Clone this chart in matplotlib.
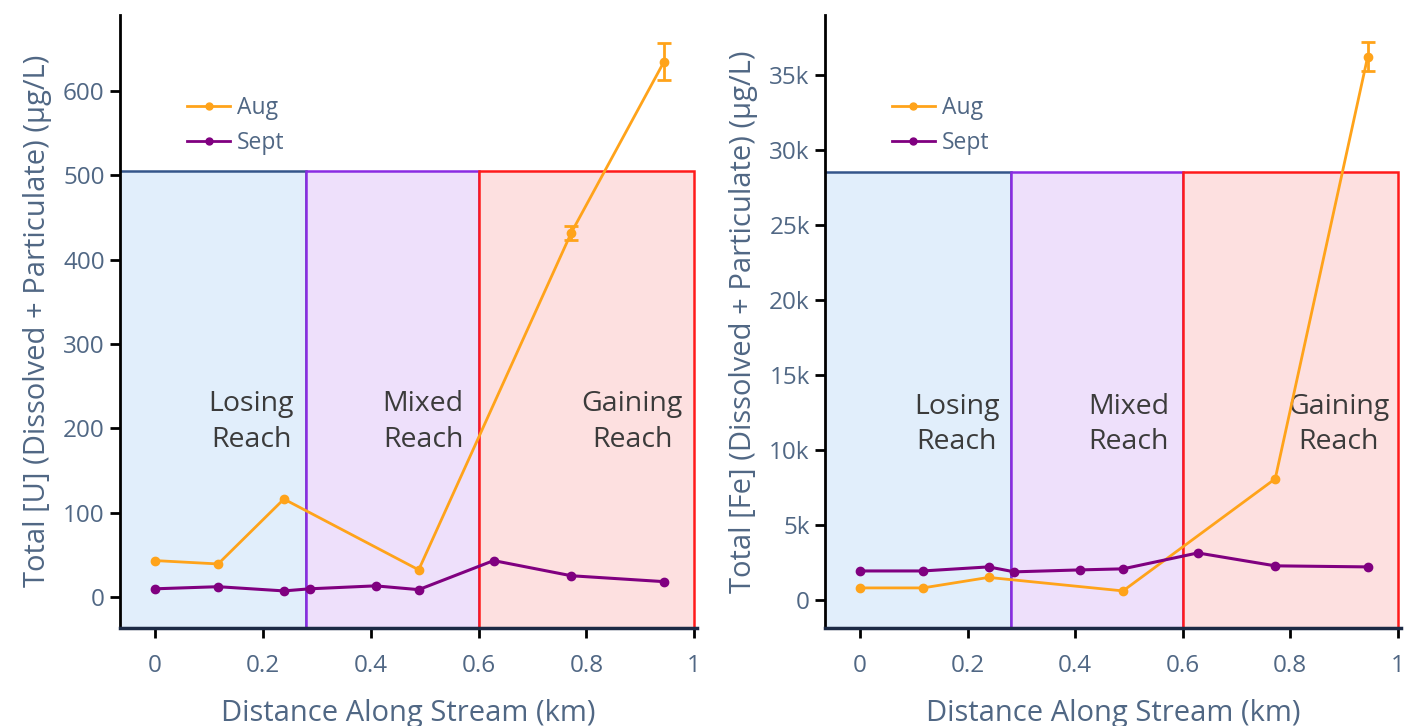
import matplotlib

matplotlib.use('Agg')
import matplotlib.pyplot as plt
from matplotlib.lines import Line2D
from matplotlib.patches import Rectangle
from matplotlib.ticker import FuncFormatter

plt.rcParams['font.family'] = ['Open Sans', 'DejaVu Sans']

# --- data: total concentration along the stream ---
aug_km = [0.0, 0.117, 0.239, 0.489, 0.772, 0.944]
sept_km = [0.0, 0.117, 0.239, 0.287, 0.409, 0.489, 0.628, 0.772, 0.944]

u_aug = [43, 39, 116, 32, 432, 635]
u_aug_err = [0, 0, 0, 0, 8, 22]
u_sept = [9.5, 12, 7, 9.5, 13, 8.5, 43, 25, 18]

fe_aug = [800, 800, 1500, 600, 8070, 36200]
fe_aug_err = [0, 0, 0, 0, 0, 950]
fe_sept = [1930, 1930, 2200, 1870, 2000, 2070, 3130, 2270, 2200]

reach_names = ['Losing\nReach', 'Mixed\nReach', 'Gaining\nReach']
reach_bounds = [-0.2, 0.28, 0.6, 1.0]
reach_fill = ['#e1eefb', '#eee0fb', '#fde0e0']
reach_edge = ['#34558a', '#8a2be2', '#ff1a1a']

AUG = '#ffa31a'
SEPT = '#800080'
TEXT = '#506784'


def draw_panel(ax, aug, aug_err, sept, ylabel, ylim, yticks, reach_top, label_x, fmt=None):
    ybot = ylim[0]
    for i in range(3):
        x0, x1 = reach_bounds[i], reach_bounds[i + 1]
        ax.add_patch(Rectangle((x0, ybot - 10 * abs(ybot)), x1 - x0,
                               reach_top - ybot + 10 * abs(ybot),
                               facecolor=reach_fill[i], edgecolor=reach_edge[i],
                               linewidth=1.8, zorder=1))
        ax.text(label_x[i], ylim[1] * 0.3, reach_names[i], ha='center', va='center',
                fontsize=20.5, color='#3b3b3b', linespacing=1.35, zorder=2)

    ax.plot(aug_km, aug, color=AUG, marker='o', markersize=6, linewidth=2, zorder=4)
    # error bars only where a spread was measured
    err_idx = [i for i, e in enumerate(aug_err) if e > 0]
    ax.errorbar([aug_km[i] for i in err_idx], [aug[i] for i in err_idx],
                yerr=[aug_err[i] for i in err_idx], fmt='none', ecolor=AUG,
                capsize=5, capthick=2, elinewidth=2, zorder=4)
    ax.plot(sept_km, sept, color=SEPT, marker='o', markersize=6, linewidth=2.2, zorder=4)

    ax.set_xlim(-0.065, 1.005)
    ax.set_ylim(*ylim)
    ax.set_xticks([0, 0.2, 0.4, 0.6, 0.8, 1])
    ax.set_xticklabels(['0', '0.2', '0.4', '0.6', '0.8', '1'])
    ax.set_yticks(yticks)
    if fmt is not None:
        ax.yaxis.set_major_formatter(FuncFormatter(fmt))

    ax.set_xlabel('Distance Along Stream (km)', fontsize=21, color=TEXT, labelpad=15)
    ax.set_ylabel(ylabel, fontsize=21, color=TEXT, labelpad=8)

    for side in ('top', 'right'):
        ax.spines[side].set_visible(False)
    ax.spines['left'].set_linewidth(2)
    ax.spines['left'].set_color('black')
    ax.spines['bottom'].set_linewidth(2.5)
    ax.spines['bottom'].set_color('#1c2a45')
    ax.tick_params(axis='both', direction='out', width=2, length=7, colors='black',
                   labelcolor=TEXT, labelsize=17.5)
    ax.tick_params(axis='x', pad=12)
    ax.tick_params(axis='y', pad=4)

    handles = [Line2D([], [], color=AUG, marker='o', markersize=5, linewidth=2),
               Line2D([], [], color=SEPT, marker='o', markersize=5, linewidth=2)]
    ax.legend(handles, ['Aug', 'Sept'], loc='upper left', bbox_to_anchor=(0.08, 0.9),
              frameon=False, fontsize=16.5, handlelength=1.9, handletextpad=0.3,
              labelspacing=0.45, labelcolor=TEXT)


fig = plt.figure(figsize=(14.07, 7.26), dpi=100)
ax_u = fig.add_axes([0.0853, 0.135, 0.410, 0.845])
ax_fe = fig.add_axes([0.5864, 0.135, 0.409, 0.845])

draw_panel(ax_u, u_aug, u_aug_err, u_sept,
           'Total [U] (Dissolved + Particulate) (µg/L)',
           (-37, 691), [0, 100, 200, 300, 400, 500, 600], 505,
           [0.178, 0.497, 0.885])

draw_panel(ax_fe, fe_aug, fe_aug_err, fe_sept,
           'Total [Fe] (Dissolved + Particulate) (µg/L)',
           (-1870, 39000), [0, 5000, 10000, 15000, 20000, 25000, 30000, 35000], 28500,
           [0.18, 0.50, 0.89],
           fmt=lambda v, p: '0' if v == 0 else f'{int(v / 1000)}k')

fig.savefig('out.png', dpi=100)
